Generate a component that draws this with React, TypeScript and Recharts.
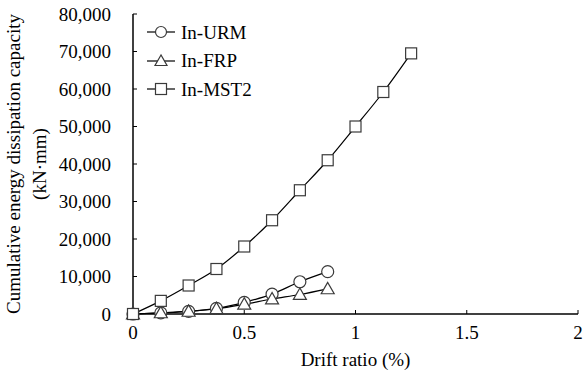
import React from "react";
import {
  LineChart,
  Line,
  XAxis,
  YAxis,
} from "recharts";

// drift ratio (%)
const drift = [0, 0.125, 0.25, 0.375, 0.5, 0.625, 0.75, 0.875, 1.0, 1.125, 1.25];
// cumulative energy (kN·mm)
const urm = [0, 300, 700, 1500, 3100, 5300, 8600, 11300];
const frp = [0, 300, 700, 1400, 2600, 4000, 5200, 6700];
const mst2 = [0, 3500, 7600, 12000, 18000, 25000, 33000, 41000, 50000, 59200, 69500];

const xTicks = [0, 0.5, 1, 1.5, 2];
const yTicks = [0, 10000, 20000, 30000, 40000, 50000, 60000, 70000, 80000];

const data = drift.map((d, i) => ({
  drift: d,
  urm: urm[i],
  frp: frp[i],
  mst2: mst2[i],
}));

const font = "Liberation Serif, Times New Roman, serif";
const fs = 19;
const mark = "#3a3a3a";

const Tri = (props: any) => {
  const { cx, cy } = props;
  if (cx == null || cy == null || props.value == null) return null;
  const s = 6.5;
  return (
    <polygon
      points={`${cx},${cy - s} ${cx - s},${cy + s * 0.75} ${cx + s},${cy + s * 0.75}`}
      fill="white"
      stroke={mark}
      strokeWidth={1.2}
    />
  );
};

const Sq = (props: any) => {
  const { cx, cy } = props;
  if (cx == null || cy == null || props.value == null) return null;
  return (
    <rect x={cx - 5.5} y={cy - 5.5} width={11} height={11} fill="white" stroke={mark} strokeWidth={1.2} />
  );
};

const Circ = (props: any) => {
  const { cx, cy } = props;
  if (cx == null || cy == null || props.value == null) return null;
  return <circle cx={cx} cy={cy} r={6} fill="white" stroke={mark} strokeWidth={1.2} />;
};

const legendItems = [
  { name: "In-URM", shape: "circle" },
  { name: "In-FRP", shape: "tri" },
  { name: "In-MST2", shape: "square" },
];

const LegendBox = () => (
  <div
    style={{
      position: "absolute",
      left: 145,
      top: 18,
      fontFamily: font,
      fontSize: fs,
      color: "#000",
      lineHeight: "19px",
    }}
  >
    {legendItems.map((it) => (
      <div key={it.name} style={{ display: "flex", alignItems: "center", height: 28.5 }}>
        <svg width={32} height={16}>
          <line x1={2} y1={8} x2={30} y2={8} stroke="#000" strokeWidth={1.2} />
          {it.shape === "circle" && <circle cx={16} cy={8} r={5.5} fill="white" stroke={mark} strokeWidth={1.2} />}
          {it.shape === "tri" && (
            <polygon points="16,2 10,12.5 22,12.5" fill="white" stroke={mark} strokeWidth={1.2} />
          )}
          {it.shape === "square" && (
            <rect x={10.5} y={2.5} width={11} height={11} fill="white" stroke={mark} strokeWidth={1.2} />
          )}
        </svg>
        <span style={{ marginLeft: 4 }}>{it.name}</span>
      </div>
    ))}
  </div>
);

const YLabel = () => (
  <g>
    <text
      transform="translate(20,164) rotate(-90)"
      textAnchor="middle"
      fontFamily={font}
      fontSize={fs}
      fill="#000"
    >
      Cumulative energy dissipation capacity
    </text>
    <text
      transform="translate(46,164) rotate(-90)"
      textAnchor="middle"
      fontFamily={font}
      fontSize={fs}
      fill="#000"
    >
      (kN·mm)
    </text>
  </g>
);

const tickStyle = { fill: "#000", fontFamily: font, fontSize: fs };

export default function App() {
  return (
    <div style={{ position: "absolute", left: 0, top: 0, background: "#fff", fontFamily: font }}>
      <LineChart
        width={585}
        height={372}
        data={data}
        style={{ fontFamily: font }}
        margin={{ top: 14, right: 7, left: 0, bottom: 0 }}
      >
        <XAxis
          dataKey="drift"
          type="number"
          domain={[0, 2]}
          ticks={xTicks}
          height={58}
          tickSize={-4}
          tickMargin={16}
          axisLine={{ stroke: "#000", strokeWidth: 1.5 }}
          tickLine={{ stroke: "#000" }}
          tick={tickStyle}
          label={{
            value: "Drift ratio (%)",
            position: "insideBottom",
            offset: 6,
            fill: "#000",
            fontFamily: font,
            fontSize: fs,
          }}
        />
        <XAxis
          xAxisId="top"
          orientation="top"
          dataKey="drift"
          type="number"
          domain={[0, 2]}
          height={0}
          tick={false}
          tickLine={false}
          axisLine={{ stroke: "#888", strokeWidth: 1 }}
        />
        <YAxis
          type="number"
          domain={[0, 80000]}
          ticks={yTicks}
          width={133}
          tickSize={-4}
          tickMargin={26}
          axisLine={{ stroke: "#000", strokeWidth: 1.5 }}
          tickLine={{ stroke: "#000" }}
          tick={tickStyle}
          tickFormatter={(v: number) => v.toLocaleString("en-US")}
          label={<YLabel />}
        />
        <YAxis
          yAxisId="right"
          orientation="right"
          domain={[0, 80000]}
          width={0}
          tick={false}
          tickLine={false}
          axisLine={{ stroke: "#888", strokeWidth: 1 }}
        />
        <Line
          type="monotone"
          dataKey="urm"
          stroke="#000"
          strokeWidth={1.2}
          dot={<Circ />}
          activeDot={false}
          isAnimationActive={false}
        />
        <Line
          type="monotone"
          dataKey="frp"
          stroke="#000"
          strokeWidth={1.2}
          dot={<Tri />}
          activeDot={false}
          isAnimationActive={false}
        />
        <Line
          type="monotone"
          dataKey="mst2"
          stroke="#000"
          strokeWidth={1.2}
          dot={<Sq />}
          activeDot={false}
          isAnimationActive={false}
        />
      </LineChart>
      <LegendBox />
    </div>
  );
}
